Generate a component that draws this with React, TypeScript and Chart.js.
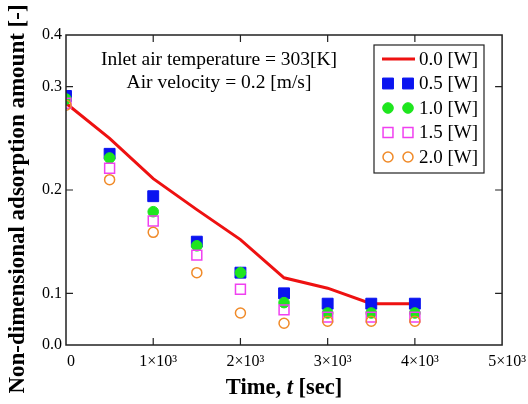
import React, { useEffect, useRef } from "react";
import { Chart, registerables } from "chart.js";

Chart.register(...registerables);

const timeValues = [0, 500, 1000, 1500, 2000, 2500, 3000, 3500, 4000];
const series00 = [0.284, 0.25, 0.211, 0.181, 0.152, 0.115, 0.105, 0.09, 0.09];
const series05 = [0.291, 0.235, 0.194, 0.15, 0.12, 0.1, 0.09, 0.09, 0.09];
const series10 = [0.288, 0.231, 0.179, 0.146, 0.12, 0.091, 0.081, 0.081, 0.081];
const series15 = [0.284, 0.221, 0.17, 0.137, 0.104, 0.084, 0.077, 0.077, 0.077];
const series20 = [0.282, 0.21, 0.159, 0.12, 0.081, 0.071, 0.073, 0.073, 0.073];
const seriesLabels = ["0.0 [W]", "0.5 [W]", "1.0 [W]", "1.5 [W]", "2.0 [W]"];

const xTickValues = [0, 1000, 2000, 3000, 4000, 5000];
const xTickLabels = ["0", "1×10³", "2×10³", "3×10³", "4×10³", "5×10³"];
const yTickValues = [0.05, 0.1, 0.2, 0.3, 0.35];
const yTickLabels = ["0.0", "0.1", "0.2", "0.3", "0.4"];

const xTitleParts = [
  { text: "Time, ", italic: false },
  { text: "t", italic: true },
  { text: " [sec]", italic: false },
];
const yTitle = "Non-dimensional adsorption amount [-]";
const noteLines = ["Inlet air temperature = 303[K]", "Air velocity = 0.2 [m/s]"];

const SERIF = "'Liberation Serif', 'Times New Roman', serif";

function drawMarker(ctx: CanvasRenderingContext2D, ds: any, x: number, y: number) {
  ctx.save();
  ctx.lineWidth = ds.pointBorderWidth;
  ctx.strokeStyle = ds.pointBorderColor;
  ctx.fillStyle = ds.pointBackgroundColor;
  ctx.beginPath();
  if (ds.pointStyle === "rect") {
    const s = Math.SQRT1_2 * ds.pointRadius;
    ctx.rect(x - s, y - s, 2 * s, 2 * s);
  } else {
    ctx.arc(x, y, ds.pointRadius, 0, Math.PI * 2);
  }
  ctx.fill();
  ctx.stroke();
  ctx.restore();
}

const decorPlugin = {
  id: "decor",
  afterDraw(chart: any) {
    const { ctx, chartArea } = chart;
    const { left, right, top, bottom } = chartArea;
    const xs = chart.scales.x;
    const ys = chart.scales.y;
    ctx.save();
    // frame
    ctx.strokeStyle = "#222";
    ctx.lineWidth = 1.5;
    ctx.strokeRect(left, top, right - left, bottom - top);
    // inward ticks
    const tl = 7;
    ctx.lineWidth = 1.2;
    ctx.beginPath();
    xTickValues.slice(1, -1).forEach((v) => {
      const px = xs.getPixelForValue(v);
      ctx.moveTo(px, bottom);
      ctx.lineTo(px, bottom - tl);
      ctx.moveTo(px, top);
      ctx.lineTo(px, top + tl);
    });
    yTickValues.slice(1, -1).forEach((v) => {
      const py = ys.getPixelForValue(v);
      ctx.moveTo(left, py);
      ctx.lineTo(left + tl, py);
      ctx.moveTo(right, py);
      ctx.lineTo(right - tl, py);
    });
    ctx.stroke();

    // annotation
    ctx.fillStyle = "#000";
    ctx.font = `19.5px ${SERIF}`;
    ctx.textAlign = "center";
    ctx.textBaseline = "middle";
    ctx.fillText(noteLines[0], 219, 60);
    ctx.fillText(noteLines[1], 219, 83);

    // legend
    const lx = 374, ly = 45, lw = 110, lh = 128;
    ctx.fillStyle = "#fff";
    ctx.fillRect(lx, ly, lw, lh);
    ctx.strokeStyle = "#222";
    ctx.lineWidth = 1.2;
    ctx.strokeRect(lx, ly, lw, lh);
    chart.data.datasets.forEach((ds: any, i: number) => {
      const y = 59 + i * 24.5;
      if (ds.showLine) {
        ctx.strokeStyle = ds.borderColor;
        ctx.lineWidth = ds.borderWidth;
        ctx.beginPath();
        ctx.moveTo(382, y);
        ctx.lineTo(415, y);
        ctx.stroke();
      } else {
        [388, 408].forEach((mx) => drawMarker(ctx, ds, mx, y));
      }
      ctx.fillStyle = "#000";
      ctx.font = `19px ${SERIF}`;
      ctx.textAlign = "left";
      ctx.textBaseline = "middle";
      ctx.fillText(seriesLabels[i], 419, y + 1);
    });

    // x title
    const cx = (left + right) / 2;
    const parts = xTitleParts.map((p) => ({
      ...p,
      font: `${p.italic ? "italic " : ""}bold 22.5px ${SERIF}`,
    }));
    let total = 0;
    parts.forEach((p) => {
      ctx.font = p.font;
      total += ctx.measureText(p.text).width;
    });
    let x = cx - total / 2;
    ctx.textAlign = "left";
    ctx.textBaseline = "middle";
    ctx.fillStyle = "#000";
    parts.forEach((p) => {
      ctx.font = p.font;
      ctx.fillText(p.text, x, 388);
      x += ctx.measureText(p.text).width;
    });

    // y title
    ctx.save();
    ctx.translate(18, 199);
    ctx.rotate(-Math.PI / 2);
    ctx.font = `bold 23px ${SERIF}`;
    ctx.textAlign = "center";
    ctx.textBaseline = "middle";
    ctx.fillText(yTitle, 0, 0);
    ctx.restore();
    ctx.restore();
  },
};

const mk = (data: number[]) => timeValues.map((t, i) => ({ x: t, y: data[i] }));

export default function App() {
  const ref = useRef<HTMLCanvasElement | null>(null);
  useEffect(() => {
    if (!ref.current) return;
    const chart = new Chart(ref.current, {
      type: "scatter",
      data: {
        datasets: [
          {
            label: seriesLabels[0],
            data: mk(series00),
            showLine: true,
            borderColor: "#ee1111",
            backgroundColor: "#ee1111",
            borderWidth: 3,
            pointRadius: 0,
            order: 5,
          },
          {
            label: seriesLabels[1],
            data: mk(series05),
            pointStyle: "rect",
            pointRadius: 7.7,
            pointBackgroundColor: "#0a14f0",
            pointBorderColor: "#0a14f0",
            pointBorderWidth: 1,
            order: 4,
          },
          {
            label: seriesLabels[2],
            data: mk(series10),
            pointStyle: "circle",
            pointRadius: 5.3,
            pointBackgroundColor: "#1ee61e",
            pointBorderColor: "#1ee61e",
            pointBorderWidth: 1,
            order: 3,
          },
          {
            label: seriesLabels[3],
            data: mk(series15),
            pointStyle: "rect",
            pointRadius: 7,
            pointBackgroundColor: "rgba(0,0,0,0)",
            pointBorderColor: "#f040f0",
            pointBorderWidth: 1.5,
            order: 2,
          },
          {
            label: seriesLabels[4],
            data: mk(series20),
            pointStyle: "circle",
            pointRadius: 5,
            pointBackgroundColor: "rgba(0,0,0,0)",
            pointBorderColor: "#f08a28",
            pointBorderWidth: 1.5,
            order: 1,
          },
        ] as any,
      },
      options: {
        responsive: false,
        animation: false,
        layout: { padding: { top: 35, right: 25, left: 0, bottom: 0 } },
        plugins: { legend: { display: false }, tooltip: { enabled: false } },
        scales: {
          x: {
            type: "linear",
            min: 0,
            max: 5000,
            grid: { display: false, drawTicks: false },
            border: { display: false },
            afterBuildTicks: (scale: any) => {
              scale.ticks = xTickValues.map((v) => ({ value: v }));
            },
            afterFit: (scale: any) => {
              scale.height = 59;
            },
            ticks: {
              autoSkip: false,
              maxRotation: 0,
              padding: 7,
              labelOffset: 5,
              color: "#000",
              font: { family: SERIF, size: 16 },
              callback: (v: any) => {
                const i = xTickValues.indexOf(Number(v));
                return i >= 0 ? xTickLabels[i] : "";
              },
            },
          },
          y: {
            type: "linear",
            min: 0.05,
            max: 0.35,
            grid: { display: false, drawTicks: false },
            border: { display: false },
            afterBuildTicks: (scale: any) => {
              scale.ticks = yTickValues.map((v) => ({ value: v }));
            },
            afterFit: (scale: any) => {
              scale.width = 66;
            },
            ticks: {
              autoSkip: false,
              padding: 4,
              color: "#000",
              font: { family: SERIF, size: 16 },
              callback: (v: any) => {
                const i = yTickValues.findIndex((t) => Math.abs(t - Number(v)) < 1e-9);
                return i >= 0 ? yTickLabels[i] : "";
              },
            },
          },
        },
      },
      plugins: [decorPlugin],
    });
    return () => chart.destroy();
  }, []);
  return (
    <div style={{ position: "fixed", left: 0, top: 0, width: 528, height: 404, background: "#fff" }}>
      <canvas ref={ref} width={528} height={404} style={{ width: 528, height: 404, display: "block" }} />
    </div>
  );
}
